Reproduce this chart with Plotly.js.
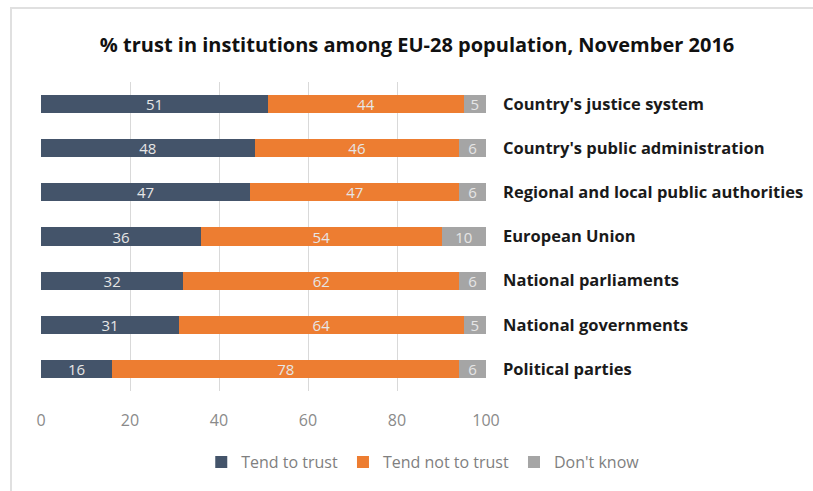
<!DOCTYPE html>
<html>
<head>
<meta charset="utf-8">
<script src="https://cdn.plot.ly/plotly-3.0.1.min.js"></script>
<style>
  html, body { margin: 0; padding: 0; background: #ffffff; }
  #wrap { position: relative; width: 813px; height: 491px; }
  #frame { position: absolute; left: 10px; top: 7px; width: 803px; height: 484px;
           border-top: 2px solid #e0e0e0; border-left: 2px solid #e0e0e0; box-sizing: border-box; pointer-events: none; z-index: 5; }
  #chart { position: absolute; left: 0; top: 0; width: 813px; height: 491px; }
</style>
</head>
<body>
<div id="wrap">
  <div id="chart"></div>
  <div id="frame"></div>
</div>
<script>
const categories = [
  "Country's justice system",
  "Country's public administration",
  "Regional and local public authorities",
  "European Union",
  "National parliaments",
  "National governments",
  "Political parties"
];
const tendToTrust = [51, 48, 47, 36, 32, 31, 16];
const tendNotToTrust = [44, 46, 47, 54, 62, 64, 78];
const dontKnow = [5, 6, 6, 10, 6, 5, 6];
const seriesNames = ["Tend to trust", "Tend not to trust", "Don't know"];
const seriesColors = ["#44546A", "#ED7D31", "#A5A5A5"];
const xTicks = [0, 20, 40, 60, 80, 100];

const seriesValues = [tendToTrust, tendNotToTrust, dontKnow];
const traces = seriesValues.map((vals, i) => ({
  type: 'bar',
  orientation: 'h',
  name: seriesNames[i],
  y: categories,
  x: vals,
  text: vals.map(String),
  textposition: 'inside',
  insidetextanchor: 'middle',
  constraintext: 'none',
  textangle: 0,
  textfont: { family: 'Open Sans, sans-serif', size: 15, color: '#e6e6e6' },
  marker: { color: seriesColors[i], line: { width: 0 } },
  hoverinfo: 'x+name'
}));

const layout = {
  width: 813,
  height: 491,
  margin: { l: 41, r: 327, t: 82, b: 100 },
  paper_bgcolor: '#ffffff',
  plot_bgcolor: '#ffffff',
  barmode: 'stack',
  bargap: 0.59,
  title: {
    text: '% trust in institutions among EU-28 population, November 2016',
    font: { family: 'Open Sans, sans-serif', size: 20, color: '#111111', weight: 'bold' },
    x: 0.513, xanchor: 'center', y: 0.908, yanchor: 'middle'
  },
  xaxis: {
    range: [0, 100],
    tickvals: xTicks,
    ticktext: xTicks.map(String),
    showgrid: true,
    gridcolor: '#d9d9d9',
    gridwidth: 1,
    zeroline: false,
    showline: false,
    ticks: '',
    tickfont: { family: 'Open Sans, sans-serif', size: 16, color: '#8a8a8a' },
    ticklabelstandoff: 18
  },
  yaxis: {
    categoryorder: 'array',
    categoryarray: categories,
    autorange: 'reversed',
    side: 'right',
    showgrid: false,
    zeroline: false,
    showline: false,
    ticks: '',
    ticklabelstandoff: 16,
    tickfont: { family: 'Open Sans, sans-serif', size: 16.5, color: '#1a1a1a', weight: 'bold' }
  },
  legend: {
    orientation: 'h',
    x: 0.52, xref: 'container', xanchor: 'center',
    y: 0.059, yref: 'container', yanchor: 'middle',
    font: { family: 'Open Sans, sans-serif', size: 16, color: '#7f7f7f' },
    itemwidth: 20,
    traceorder: 'normal'
  },
  showlegend: true
};

Plotly.newPlot('chart', traces, layout, { displayModeBar: false, staticPlot: true });
</script>
</body>
</html>
